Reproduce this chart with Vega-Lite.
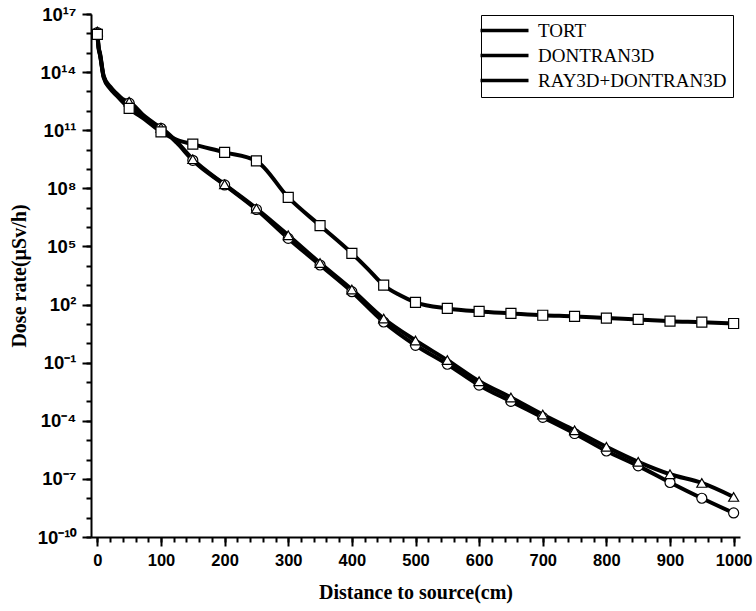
{
  "$schema": "https://vega.github.io/schema/vega-lite/v6.json",
  "width": 649,
  "height": 523,
  "autosize": {"type": "none"},
  "padding": {"left": 91, "top": 14, "right": 16, "bottom": 74},
  "background": "white",
  "config": {
    "view": {"stroke": null},
    "axis": {
      "domainColor": "black", "domainWidth": 2,
      "labelColor": "black", "titleColor": "black", "grid": false,
      "labelFont": "Liberation Sans", "labelFontWeight": "bold",
      "titleFont": "Liberation Serif", "titleFontWeight": "bold", "titleFontSize": 20
    }
  },
  "resolve": {"axis": {"x": "independent", "y": "independent"}},
  "data": {"values": [
    {"s":"TORT","x":0,"y":1.1e16},{"s":"TORT","x":2,"y":1.8e15},{"s":"TORT","x":4,"y":8.9e14},{"s":"TORT","x":10,"y":5.6e13},{"s":"TORT","x":20,"y":1.6e13},{"s":"TORT","x":30,"y":7.1e12},{"s":"TORT","x":40,"y":3.5e12},{"s":"TORT","x":50,"y":2.5e12},{"s":"TORT","x":75,"y":4.5e11},{"s":"TORT","x":90,"y":2.0e11},{"s":"TORT","x":100,"y":1.26e11},{"s":"TORT","x":125,"y":2.2e10},{"s":"TORT","x":150,"y":2.8e9},{"s":"TORT","x":200,"y":1.5e8},{"s":"TORT","x":250,"y":8.1e6},{"s":"TORT","x":300,"y":2.6e5},{"s":"TORT","x":350,"y":1.1e4},{"s":"TORT","x":400,"y":4.6e2},{"s":"TORT","x":450,"y":12.6},{"s":"TORT","x":500,"y":0.79},{"s":"TORT","x":550,"y":0.083},{"s":"TORT","x":600,"y":6.9e-3},{"s":"TORT","x":650,"y":1.0e-3},{"s":"TORT","x":700,"y":1.5e-4},{"s":"TORT","x":750,"y":2.2e-5},{"s":"TORT","x":800,"y":2.75e-6},{"s":"TORT","x":850,"y":4.7e-7},{"s":"TORT","x":900,"y":6.5e-8},{"s":"TORT","x":950,"y":1.0e-8},{"s":"TORT","x":1000,"y":1.74e-9},
    {"s":"DONTRAN3D","x":0,"y":1.26e16},{"s":"DONTRAN3D","x":2,"y":2.0e15},{"s":"DONTRAN3D","x":4,"y":1.0e15},{"s":"DONTRAN3D","x":10,"y":6.3e13},{"s":"DONTRAN3D","x":20,"y":1.8e13},{"s":"DONTRAN3D","x":30,"y":7.9e12},{"s":"DONTRAN3D","x":40,"y":4.0e12},{"s":"DONTRAN3D","x":50,"y":2.95e12},{"s":"DONTRAN3D","x":75,"y":5.0e11},{"s":"DONTRAN3D","x":90,"y":2.2e11},{"s":"DONTRAN3D","x":100,"y":1.35e11},{"s":"DONTRAN3D","x":125,"y":2.5e10},{"s":"DONTRAN3D","x":150,"y":3.2e9},{"s":"DONTRAN3D","x":200,"y":1.6e8},{"s":"DONTRAN3D","x":250,"y":9.1e6},{"s":"DONTRAN3D","x":300,"y":3.8e5},{"s":"DONTRAN3D","x":350,"y":1.4e4},{"s":"DONTRAN3D","x":400,"y":6.0e2},{"s":"DONTRAN3D","x":450,"y":19},{"s":"DONTRAN3D","x":500,"y":1.4},{"s":"DONTRAN3D","x":550,"y":0.135},{"s":"DONTRAN3D","x":600,"y":1.1e-2},{"s":"DONTRAN3D","x":650,"y":1.6e-3},{"s":"DONTRAN3D","x":700,"y":2.1e-4},{"s":"DONTRAN3D","x":750,"y":3.2e-5},{"s":"DONTRAN3D","x":800,"y":4.5e-6},{"s":"DONTRAN3D","x":850,"y":7.6e-7},{"s":"DONTRAN3D","x":900,"y":1.74e-7},{"s":"DONTRAN3D","x":950,"y":6.2e-8},{"s":"DONTRAN3D","x":1000,"y":1.17e-8},
    {"s":"RAY3D+DONTRAN3D","x":0,"y":8.9e15},{"s":"RAY3D+DONTRAN3D","x":2,"y":1.6e15},{"s":"RAY3D+DONTRAN3D","x":4,"y":7.9e14},{"s":"RAY3D+DONTRAN3D","x":10,"y":5.2e13},{"s":"RAY3D+DONTRAN3D","x":20,"y":1.4e13},{"s":"RAY3D+DONTRAN3D","x":30,"y":6.3e12},{"s":"RAY3D+DONTRAN3D","x":40,"y":2.8e12},{"s":"RAY3D+DONTRAN3D","x":50,"y":1.35e12},{"s":"RAY3D+DONTRAN3D","x":75,"y":3.5e11},{"s":"RAY3D+DONTRAN3D","x":100,"y":8.3e10},{"s":"RAY3D+DONTRAN3D","x":125,"y":3.2e10},{"s":"RAY3D+DONTRAN3D","x":150,"y":1.9e10},{"s":"RAY3D+DONTRAN3D","x":200,"y":7.2e9},{"s":"RAY3D+DONTRAN3D","x":250,"y":2.6e9},{"s":"RAY3D+DONTRAN3D","x":300,"y":3.4e7},{"s":"RAY3D+DONTRAN3D","x":350,"y":1.2e6},{"s":"RAY3D+DONTRAN3D","x":400,"y":4.4e4},{"s":"RAY3D+DONTRAN3D","x":425,"y":7.0e3},{"s":"RAY3D+DONTRAN3D","x":450,"y":1.0e3},{"s":"RAY3D+DONTRAN3D","x":475,"y":3.1e2},{"s":"RAY3D+DONTRAN3D","x":500,"y":1.3e2},{"s":"RAY3D+DONTRAN3D","x":550,"y":63},{"s":"RAY3D+DONTRAN3D","x":600,"y":44},{"s":"RAY3D+DONTRAN3D","x":650,"y":35},{"s":"RAY3D+DONTRAN3D","x":700,"y":28},{"s":"RAY3D+DONTRAN3D","x":750,"y":24.5},{"s":"RAY3D+DONTRAN3D","x":800,"y":20},{"s":"RAY3D+DONTRAN3D","x":850,"y":17},{"s":"RAY3D+DONTRAN3D","x":900,"y":13.8},{"s":"RAY3D+DONTRAN3D","x":950,"y":12.3},{"s":"RAY3D+DONTRAN3D","x":1000,"y":10.5}
  ]},
  "layer": [
    {
      "mark": {"type": "line", "strokeWidth": 4, "interpolate": "monotone"},
      "encoding": {
        "x": {"field": "x", "type": "quantitative",
          "scale": {"domain": [-10, 1010], "nice": false, "zero": false},
          "axis": {
            "orient": "bottom",
            "values": [0,100,200,300,400,500,600,700,800,900,1000],
            "format": "d", "ticks": true, "tickSize": 9, "tickColor": "black", "tickWidth": 2,
            "labelFontSize": 16.5, "labelPadding": 6, "labelOverlap": false, "labelFlush": false,
            "title": "Distance to source(cm)", "titlePadding": 14
          }},
        "y": {"field": "y", "type": "quantitative",
          "scale": {"type": "log", "domain": [1e-10, 1e17], "nice": false},
          "axis": {
            "orient": "left",
            "values": [1e-10,1e-7,1e-4,0.1,100,1e5,1e8,1e11,1e14,1e17],
            "labelExpr": "datum.value==1e17?'10¹⁷':datum.value==1e14?'10¹⁴':datum.value==1e11?'10¹¹':datum.value==1e8?'10⁸':datum.value==1e5?'10⁵':datum.value==100?'10²':datum.value==0.1?'10⁻¹':datum.value==1e-4?'10⁻⁴':datum.value==1e-7?'10⁻⁷':datum.value==1e-10?'10⁻¹⁰':''",
            "ticks": true, "tickSize": 9, "tickColor": "black", "tickWidth": 2, "labelOverlap": false, "labelFlush": false,
            "labelFontSize": 18.5, "labelPadding": 6,
            "title": "Dose rate(µSv/h)", "titlePadding": 8
          }},
        "color": {"field": "s", "type": "nominal",
          "scale": {"domain": ["TORT", "DONTRAN3D", "RAY3D+DONTRAN3D"], "range": ["black", "black", "black"]},
          "legend": {"orient": "none", "legendX": 390, "legendY": 1, "title": null,
            "symbolType": "M-4,0H4", "symbolSize": 144, "symbolStrokeWidth": 3.5, "symbolStrokeColor": "black",
            "labelFont": "Liberation Serif", "labelFontSize": 19, "labelColor": "black", "labelLimit": 400,
            "labelOffset": 24, "symbolOffset": 8, "padding": 6, "rowPadding": 5,
            "strokeColor": "black", "fillColor": "white"}
        }
      }
    },
    {
      "transform": [{"filter": "datum.x % 50 == 0"}],
      "mark": {"type": "point", "filled": true, "fill": "white", "stroke": "black", "strokeWidth": 1.2, "size": 100, "opacity": 1},
      "encoding": {
        "x": {"field": "x", "type": "quantitative",
          "axis": {"orient": "bottom", "values": [0,20,40,60,80,100,120,140,160,180,200,220,240,260,280,300,320,340,360,380,400,420,440,460,480,500,520,540,560,580,600,620,640,660,680,700,720,740,760,780,800,820,840,860,880,900,920,940,960,980,1000],
            "ticks": true, "tickSize": 5, "tickColor": "black", "tickWidth": 2, "labels": false, "domain": false, "title": null}},
        "y": {"field": "y", "type": "quantitative",
          "axis": {"orient": "left", "values": [1e-10,1e-9,1e-8,1e-7,1e-6,1e-5,1e-4,1e-3,1e-2,1e-1,1,10,100,1e3,1e4,1e5,1e6,1e7,1e8,1e9,1e10,1e11,1e12,1e13,1e14,1e15,1e16,1e17],
            "ticks": true, "tickSize": 5, "tickColor": "black", "tickWidth": 2, "labels": false, "domain": false, "title": null}},
        "shape": {"field": "s", "type": "nominal", "sort": ["TORT", "DONTRAN3D", "RAY3D+DONTRAN3D"],
          "scale": {"range": ["circle", "triangle-up", "square"]},
          "legend": null
        }
      }
    }
  ]
}
